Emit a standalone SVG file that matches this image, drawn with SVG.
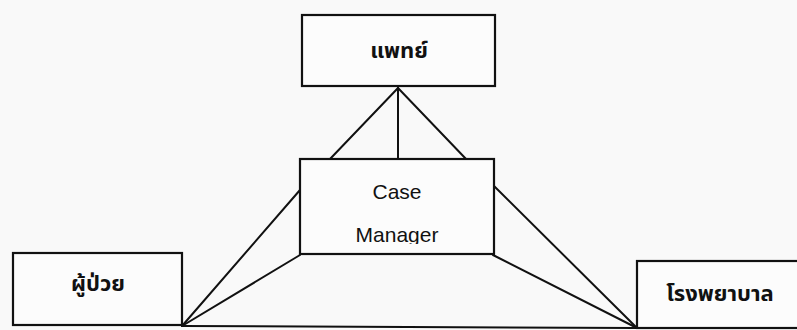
<svg xmlns="http://www.w3.org/2000/svg" width="797" height="330" viewBox="0 0 797 330">
<style>
.box{fill:#fcfcfc;stroke:#111;stroke-width:2.2}
.ln{stroke:#111;stroke-width:2;fill:none;stroke-linecap:round}
.th{font-family:"Noto Sans Thai","Noto Sans","DejaVu Sans",sans-serif;font-weight:bold;font-size:22px;fill:#111;text-anchor:middle}
.en{font-family:"Liberation Sans",Arial,sans-serif;font-size:21px;fill:#111;text-anchor:middle}
</style>
<defs>
<clipPath id="cmclip"><rect x="300" y="159" width="194" height="85"/></clipPath>
</defs>
<rect width="797" height="330" fill="#f9f9f9"/>
<g id="connectors">
<line class="ln" x1="398" y1="88" x2="330" y2="159"/>
<line class="ln" x1="398" y1="88" x2="398" y2="159"/>
<line class="ln" x1="398" y1="88" x2="467" y2="160"/>
<line class="ln" x1="182" y1="326" x2="300" y2="190"/>
<line class="ln" x1="182" y1="326" x2="300" y2="255"/>
<line class="ln" x1="182" y1="326" x2="637" y2="328"/>
<line class="ln" x1="493" y1="185" x2="637" y2="328"/>
<line class="ln" x1="493" y1="255" x2="637" y2="328"/>
</g>
<g id="doctor">
<rect class="box" x="302" y="15" width="193" height="71"/>
<text class="th" x="399" y="58">แพทย์</text>
</g>
<g id="case-manager">
<rect class="box" x="300" y="159" width="194" height="95"/>
<text class="en" x="397" y="199">Case</text>
<text class="en" x="397" y="242" clip-path="url(#cmclip)">Manager</text>
</g>
<g id="patient">
<rect class="box" x="13" y="253" width="169" height="72"/>
<text class="th" x="98" y="291">ผู้ป่วย</text>
</g>
<g id="hospital">
<rect class="box" x="637" y="261" width="200" height="67"/>
<text class="th" x="720" y="301">โรงพยาบาล</text>
</g>
</svg>
